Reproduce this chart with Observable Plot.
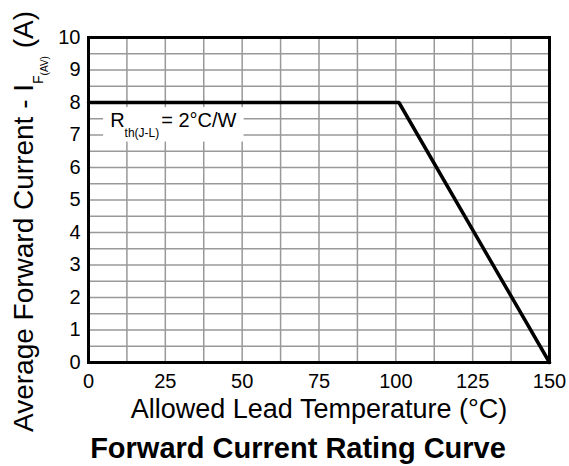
<!DOCTYPE html>
<html>
<head>
<meta charset="utf-8">
<script src="https://cdn.jsdelivr.net/npm/d3@7"></script>
<script src="https://cdn.jsdelivr.net/npm/@observablehq/plot@0.6"></script>
<style>
  html, body { margin: 0; padding: 0; background: white; }
  svg { display: block; }
</style>
</head>
<body>
<div id="chart"></div>
<script>
// ---- data ----
const xTicks = [0, 25, 50, 75, 100, 125, 150];
const yTicks = [0, 1, 2, 3, 4, 5, 6, 7, 8, 9, 10];
const xGrid = [12.5, 25, 37.5, 50, 62.5, 75, 87.5, 100, 112.5, 125, 137.5];
const yGrid = [0.5, 1, 1.5, 2, 2.5, 3, 3.5, 4, 4.5, 5, 5.5, 6, 6.5, 7, 7.5, 8, 8.5, 9, 9.5];
const leadTemp = [0, 101, 150];
const current = [8, 8, 0];
const xTitle = "Allowed Lead Temperature (°C)";
const chartTitle = "Forward Current Rating Curve";
const yTitleParts = ["Average Forward Current - I", "F", "(AV)", " (A)"];
const annotParts = ["R", "th(J-L)", "= 2°C/W"];
const annotPos = {x: 7.2, y: 7.23};

const curve = leadTemp.map((t, i) => ({t, i: current[i]}));

const font = "'Liberation Sans', Arial, Helvetica, sans-serif";

const chart = Plot.plot({
  width: 569,
  height: 466,
  marginLeft: 88,
  marginRight: 20,
  marginTop: 37,
  marginBottom: 104,
  x: {domain: [0, 150]},
  y: {domain: [0, 10]},
  style: {fontFamily: font, background: "white", color: "black"},
  marks: [
    Plot.gridX(xGrid, {stroke: "#999", strokeOpacity: 1, strokeWidth: 1.5}),
    Plot.gridY(yGrid, {stroke: "#999", strokeOpacity: 1, strokeWidth: 1.5}),
    Plot.axisX(xTicks, {tickSize: 0, tickPadding: 11, fontSize: 20, label: null}),
    Plot.axisY(yTicks, {tickSize: 0, tickPadding: 8, fontSize: 20, label: null}),
    Plot.line(curve, {x: "t", y: "i", stroke: "black", strokeWidth: 3.5, strokeLinejoin: "miter"}),
    Plot.frame({stroke: "black", strokeWidth: 3}),
    Plot.text([xTitle], {text: d => d, frameAnchor: "bottom", lineAnchor: "bottom", dy: 55, fontSize: 27}),
    Plot.text([chartTitle], {text: d => d, frameAnchor: "bottom", lineAnchor: "bottom", dy: 95, dx: -21, fontSize: 29, fontWeight: "bold"})
  ]
});

document.getElementById("chart").appendChild(chart);

const svg = d3.select(chart);
const sx = chart.scale("x"), sy = chart.scale("y");

// y-axis title with subscripts
const yt = svg.append("text")
  .attr("transform", `translate(33, ${sy.apply(0) + 70}) rotate(-90)`)
  .attr("text-anchor", "start")
  .attr("font-family", font)
  .attr("font-size", 28)
  .attr("fill", "black")
  .style("white-space", "pre");
yt.append("tspan").text(yTitleParts[0]);
yt.append("tspan").attr("font-size", 14).attr("dy", 10).text(yTitleParts[1]);
yt.append("tspan").attr("font-size", 10).attr("dy", 5).text(yTitleParts[2]);
yt.append("tspan").attr("dy", -15).text(yTitleParts[3]);

// annotation with white box
const ag = svg.append("g");
const box = ag.append("rect").attr("fill", "white");
const at = ag.append("text")
  .attr("x", sx.apply(annotPos.x))
  .attr("y", sy.apply(annotPos.y))
  .attr("text-anchor", "start")
  .attr("font-family", font)
  .attr("font-size", 20)
  .attr("fill", "black");
at.append("tspan").text(annotParts[0]);
at.append("tspan").attr("font-size", 12).attr("dy", 9.5).text(annotParts[1]);
at.append("tspan").attr("dy", -9.5).attr("dx", 2).text(annotParts[2]);
const bb = at.node().getBBox();
box.attr("x", bb.x - 7).attr("y", bb.y - 2).attr("width", bb.width + 14).attr("height", bb.height + 4);
</script>
</body>
</html>
